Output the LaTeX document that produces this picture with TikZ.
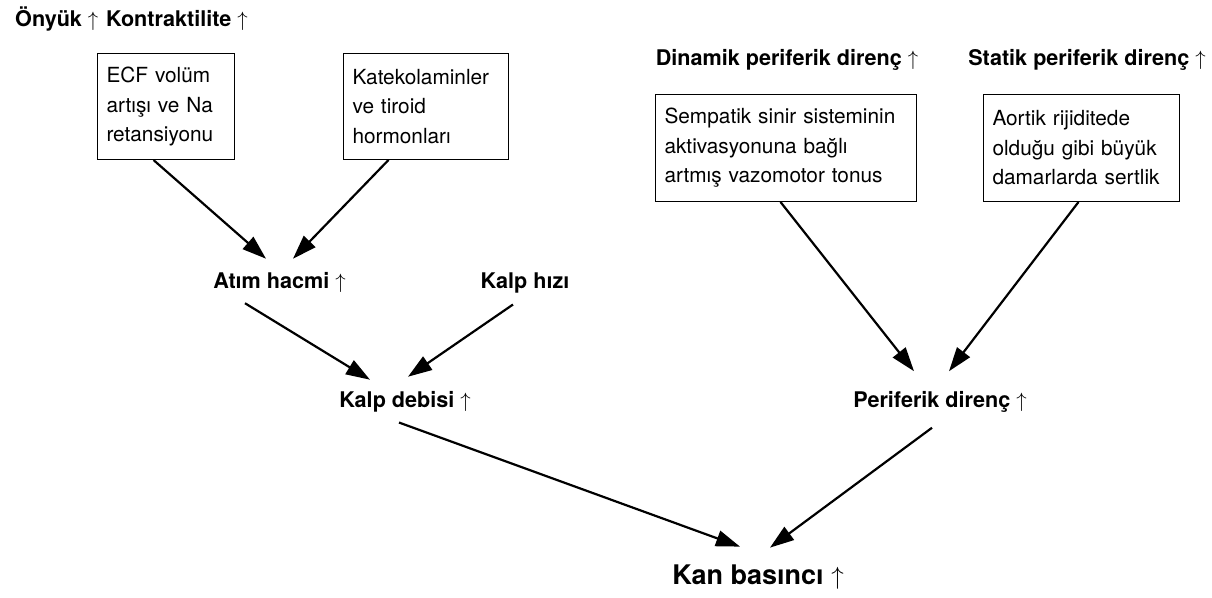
\documentclass[tikz,border=0pt]{standalone}
\usepackage{fontspec}
\setmainfont{TeX Gyre Heros}
\usetikzlibrary{arrows.meta}

\begin{document}
\begin{tikzpicture}[x=1pt,y=-1pt,
    kutu/.style={draw,line width=1pt,align=left,anchor=north west,inner xsep=9pt,font=\fontsize{20.8}{29.5}\selectfont},
    etiket/.style={anchor=base,inner sep=3pt,font=\fontsize{21.6}{25}\selectfont\bfseries},
    ok/.style={line width=2.2pt,-{Triangle[length=24pt,width=16pt]}}]
        \useasboundingbox (0,0) rectangle (1212,597);
        \node[etiket,anchor=base west] (onyuk) at (12,26) {Önyük $\uparrow$};
        \node[etiket,anchor=base west] (kontrak) at (103,26) {Kontraktilite $\uparrow$};
        \node[etiket] (dinamik) at (787,65) {Dinamik periferik direnç $\uparrow$};
        \node[etiket] (statik) at (1087,65) {Statik periferik direnç $\uparrow$};
        \node[kutu,text width=119pt,minimum height=106pt] (ecf) at (97,53) {ECF volüm\\artışı ve Na\\retansiyonu};
        \node[kutu,text width=147pt,minimum height=106pt] (kateko) at (343,53) {Katekolaminler\\ve tiroid\\hormonları};
        \node[kutu,text width=243pt,minimum height=107pt] (sempatik) at (655,94) {Sempatik sinir sisteminin\\aktivasyonuna bağlı\\artmış vazomotor tonus};
        \node[kutu,text width=178pt,minimum height=107pt] (aortik) at (983,94) {Aortik rijiditede\\olduğu gibi büyük\\damarlarda sertlik};
        \node[etiket] (atim) at (279.5,288) {Atım hacmi $\uparrow$};
        \node[etiket] (kalphizi) at (525,288) {Kalp hızı};
        \node[etiket] (debi) at (405,407) {Kalp debisi $\uparrow$};
        \node[etiket] (periferik) at (940,407) {Periferik direnç $\uparrow$};
        \node[etiket,font=\fontsize{27}{30}\selectfont\bfseries] (kan) at (758,584) {Kan basıncı $\uparrow$};
        \draw[ok] ([xshift=-12.5pt]ecf.south) -- ([xshift=-13.5pt,yshift=10pt]atim.north);
        \draw[ok] ([xshift=-37.5pt]kateko.south) -- ([xshift=13.5pt,yshift=10pt]atim.north);
        \draw[ok] ([xshift=-34.5pt,yshift=-8pt]atim.south) -- ([xshift=-35pt,yshift=8pt]debi.north);
        \draw[ok] ([xshift=-12pt,yshift=-8.6pt]kalphizi.south) -- ([xshift=3pt,yshift=11pt]debi.north);
        \draw[ok] ([xshift=-6pt,yshift=-7.6pt]debi.south) -- ([xshift=-18pt,yshift=14.5pt]kan.north);
        \draw[ok] ([xshift=-5.5pt]sempatik.south) -- ([xshift=-26pt,yshift=16.5pt]periferik.north);
        \draw[ok] ([xshift=-3pt]aortik.south) -- ([xshift=9pt,yshift=16.5pt]periferik.north);
        \draw[ok] ([xshift=-8pt,yshift=-12.6pt]periferik.south) -- ([xshift=12pt,yshift=13.5pt]kan.north);
\end{tikzpicture}
\end{document}
